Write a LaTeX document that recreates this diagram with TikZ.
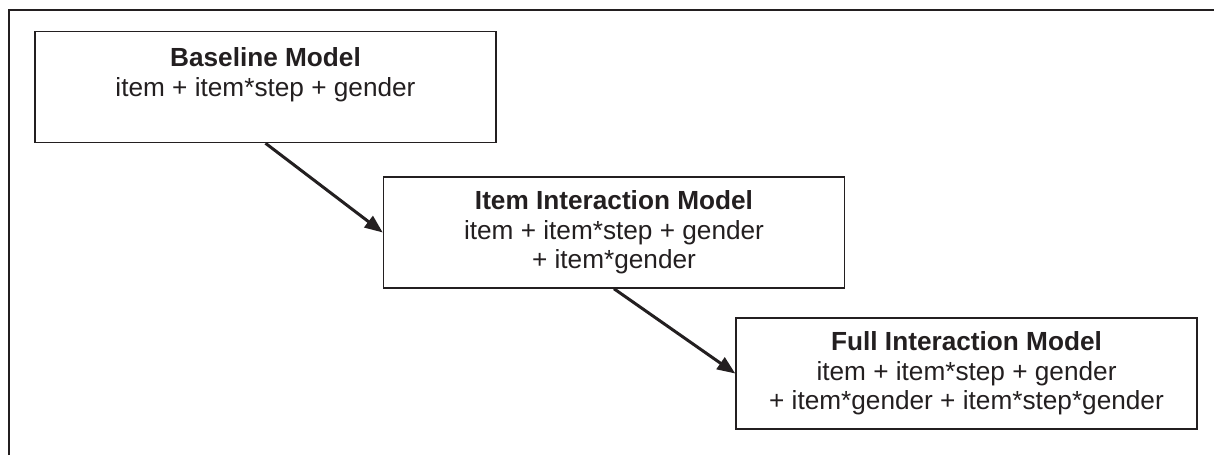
\documentclass[tikz,border=0pt]{standalone}
\usepackage{fontspec}
\setmainfont{Liberation Sans}
\usetikzlibrary{arrows.meta}
\definecolor{ink}{HTML}{231F20}
\begin{document}
\begin{tikzpicture}[x=0.5pt,y=-0.5pt,
  modelbox/.style={draw=ink, line width=0.75pt, minimum width=230.5pt, minimum height=55.5pt,
    inner sep=0pt, align=center, font=\fontsize{13.1pt}{14.75pt}\selectfont, text=ink},
  flow/.style={draw=ink, line width=1.5pt, -{Triangle[length=9pt,width=7pt]}},
  frame/.style={draw=ink, line width=1pt}]
\fill[white] (0,0) rectangle (1214,455);
\useasboundingbox (0,0) rectangle (1214,455);
\coordinate (fb) at (9,455);
\coordinate (fc) at (9,9.5);
\coordinate (fr) at (1214,9.5);
\draw[frame] (fb) -- (fc) -- (fr);
\node[modelbox] (b1) at (265.5,87) {\textbf{Baseline Model}\\item + item*step + gender\\\mbox{}};
\node[modelbox] (b2) at (614,232.5) {\textbf{Item Interaction Model}\\item + item*step + gender\\+ item*gender};
\node[modelbox] (b3) at (966.5,373.5) {\textbf{Full Interaction Model}\\item + item*step + gender\\+ item*gender + item*step*gender};
\draw[flow] (b1.south) -- (b2.west);
\draw[flow] (b2.south) -- (b3.west);
\end{tikzpicture}
\end{document}
